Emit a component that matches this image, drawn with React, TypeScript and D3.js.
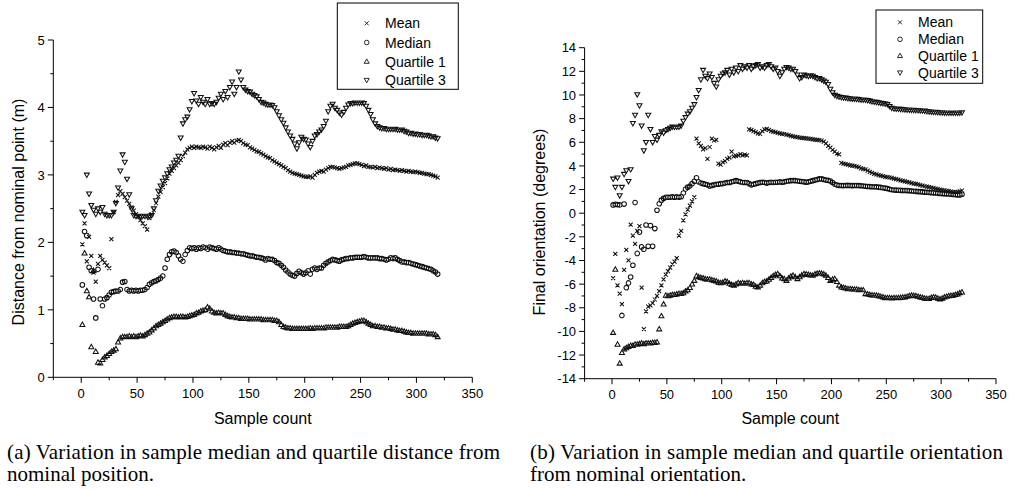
import React from "react";
import * as d3 from "d3";

// sample indices (every second sample, 1..319)
const SAMPLES: number[] = d3.range(1, 320, 2);

const SERIES_NAMES = ["Mean", "Median", "Quartile 1", "Quartile 3"];

// ---------- Panel (a): distance from nominal point (m) ----------
const LEFT_MEAN = [
  1.97, 2.28, 1.72, 2.08, 1.8, 1.55, 1.42, 1.68, 1.8, 1.74,
  1.7, 1.66, 1.62, 2.05, 2.45, 2.6, 2.7, 2.76, 2.72, 2.67,
  2.62, 2.57, 2.52, 2.47, 2.42, 2.38, 2.33, 2.28, 2.24, 2.19,
  2.36, 2.42, 2.48, 2.58, 2.68, 2.75, 2.82, 2.88, 2.95, 3.02,
  3.06, 3.1, 3.14, 3.18, 3.22, 3.28, 3.33, 3.38, 3.4, 3.42,
  3.4, 3.42, 3.41, 3.4, 3.42, 3.41, 3.39, 3.42, 3.4, 3.38,
  3.41, 3.43, 3.4, 3.45, 3.47, 3.44, 3.48, 3.5, 3.48, 3.51,
  3.52, 3.5, 3.47, 3.45, 3.44, 3.41, 3.39, 3.37, 3.35, 3.34,
  3.32, 3.3, 3.28, 3.26, 3.25, 3.22, 3.2, 3.18, 3.16, 3.14,
  3.12, 3.1, 3.07, 3.05, 3.03, 3.02, 3.01, 3.0, 2.99, 2.98,
  2.97, 2.97, 2.98, 2.96, 3.0, 3.03, 3.05, 3.06, 3.05, 3.08,
  3.1, 3.12, 3.12, 3.11, 3.1, 3.09, 3.1, 3.11, 3.12, 3.14,
  3.15, 3.16, 3.17, 3.17, 3.16, 3.15, 3.13, 3.14, 3.12, 3.12,
  3.11, 3.12, 3.1, 3.11, 3.1, 3.09, 3.1, 3.08, 3.09, 3.07,
  3.08, 3.07, 3.06, 3.07, 3.06, 3.05, 3.06, 3.05, 3.04, 3.05,
  3.04, 3.03, 3.03, 3.02, 3.01, 3.01, 3.0, 2.99, 2.98, 2.96,
];

const LEFT_MEDIAN = [
  1.37, 2.16, 2.1, 1.63, 1.58, 1.16, 0.88, 1.6, 1.16, 1.06,
  1.16, 1.18, 1.22, 1.26, 1.27, 1.28, 1.28, 1.3, 1.41, 1.42,
  1.3, 1.28, 1.29, 1.28, 1.29, 1.28, 1.29, 1.29, 1.3, 1.33,
  1.38, 1.4, 1.42, 1.43, 1.45, 1.47, 1.5, 1.62, 1.75, 1.82,
  1.86, 1.87, 1.85, 1.8, 1.75, 1.72, 1.82, 1.88, 1.92, 1.91,
  1.92, 1.9, 1.92, 1.91, 1.93, 1.92, 1.9, 1.93, 1.92, 1.91,
  1.9, 1.92, 1.9, 1.88, 1.87, 1.86, 1.86, 1.85, 1.85, 1.84,
  1.84, 1.83, 1.83, 1.82, 1.81, 1.8, 1.8, 1.79, 1.78, 1.78,
  1.77, 1.76, 1.74, 1.76, 1.75, 1.75, 1.73, 1.7, 1.69, 1.66,
  1.63, 1.59, 1.56, 1.53, 1.51, 1.5, 1.54, 1.57, 1.55, 1.53,
  1.55, 1.58, 1.53, 1.6, 1.62, 1.6, 1.62, 1.62, 1.66, 1.69,
  1.71, 1.73, 1.75, 1.74, 1.73, 1.72, 1.74, 1.75, 1.76, 1.76,
  1.77, 1.77, 1.78, 1.78, 1.78, 1.78, 1.79, 1.78, 1.77, 1.77,
  1.77, 1.77, 1.77, 1.76, 1.76, 1.75, 1.74, 1.75, 1.77, 1.76,
  1.77, 1.75, 1.73, 1.71, 1.71, 1.7, 1.7, 1.69, 1.68, 1.67,
  1.66, 1.65, 1.64, 1.63, 1.62, 1.61, 1.6, 1.58, 1.56, 1.53,
];

const LEFT_Q1 = [
  0.78, 1.84, 1.28, 1.19, 0.45, 1.58, 0.38, 0.22, 0.21, 0.26,
  0.3, 0.32, 0.35, 0.38, 0.4, 0.42, 0.52, 0.58, 0.6, 0.6,
  0.6, 0.61, 0.6, 0.61, 0.6, 0.61, 0.62, 0.61, 0.63, 0.65,
  0.67, 0.7, 0.73, 0.76, 0.78, 0.8, 0.82, 0.84, 0.86, 0.88,
  0.89, 0.9, 0.9, 0.89, 0.9, 0.9, 0.89, 0.9, 0.91, 0.92,
  0.93, 0.95, 0.96, 0.98, 0.99, 1.0, 1.04, 1.02, 0.98, 0.96,
  0.95, 0.96, 0.95, 0.95, 0.93, 0.91, 0.9, 0.89, 0.89, 0.88,
  0.88, 0.87, 0.87, 0.87, 0.87, 0.86, 0.86, 0.86, 0.86, 0.86,
  0.86, 0.85, 0.85, 0.85, 0.85, 0.85, 0.84, 0.84, 0.82, 0.78,
  0.75, 0.74, 0.73, 0.73, 0.72, 0.72, 0.72, 0.72, 0.72, 0.72,
  0.72, 0.72, 0.73, 0.72, 0.73, 0.73, 0.73, 0.73, 0.73, 0.74,
  0.74, 0.74, 0.74, 0.74, 0.74, 0.75, 0.75, 0.75, 0.75, 0.76,
  0.78, 0.8, 0.81, 0.82, 0.83, 0.84, 0.84, 0.82, 0.8, 0.78,
  0.76, 0.76, 0.75, 0.75, 0.74, 0.74, 0.73, 0.73, 0.72, 0.71,
  0.71, 0.7, 0.69, 0.69, 0.68, 0.67, 0.66, 0.66, 0.65, 0.65,
  0.65, 0.65, 0.65, 0.65, 0.65, 0.64, 0.64, 0.64, 0.63, 0.6,
];

const LEFT_Q3 = [
  2.45, 2.4, 3.0, 2.72, 2.55, 2.48, 2.42, 2.5, 2.45, 2.52,
  2.42, 2.4, 2.4, 2.4, 2.45, 2.58, 2.81, 3.06, 3.3, 3.19,
  2.94, 2.71, 2.5, 2.4, 2.39, 2.39, 2.39, 2.39, 2.39, 2.39,
  2.39, 2.4, 2.5, 2.62, 2.76, 2.84, 2.91, 2.96, 3.02, 3.08,
  3.12, 3.18, 3.22, 3.28, 3.55, 3.76, 3.82, 3.86, 3.97, 4.09,
  4.21, 4.1, 4.05, 4.15, 4.08, 4.05, 4.12, 4.05, 4.06, 4.05,
  4.08, 4.14, 4.2, 4.12, 4.24, 4.15, 4.3, 4.38, 4.2, 4.3,
  4.53, 4.41, 4.3, 4.26, 4.24, 4.23, 4.2, 4.18, 4.16, 4.12,
  4.08, 4.07, 4.05, 4.04, 4.04, 4.03, 4.0, 3.94, 3.88, 3.82,
  3.77, 3.7, 3.64, 3.58, 3.53, 3.46, 3.39, 3.48, 3.56, 3.53,
  3.52, 3.46, 3.41, 3.5, 3.58, 3.6, 3.64, 3.67, 3.72, 3.8,
  3.94, 4.02, 4.05, 3.99, 3.96, 3.92, 3.89, 3.93, 3.99, 4.04,
  4.06, 4.06, 4.07, 4.07, 4.07, 4.07, 4.06, 4.02, 3.96, 3.9,
  3.82, 3.76, 3.72, 3.7, 3.69, 3.69, 3.68, 3.68, 3.68, 3.68,
  3.68, 3.67, 3.67, 3.67, 3.65, 3.64, 3.62, 3.62, 3.61, 3.61,
  3.6, 3.6, 3.59, 3.59, 3.59, 3.58, 3.57, 3.57, 3.55, 3.54,
];

// ---------- Panel (b): final orientation (degrees) ----------
const RIGHT_MEAN = [
  -5.5, -3.44, -6.1, -6.8, -7.7, -4.8, -3.1, -4.0, -0.96, -1.9,
  -2.6, -1.5, -1.1, -6.3, -9.8, -8.3, -7.9, -7.8, -7.6, -7.3,
  -7.0, -6.6, -6.1, -5.6, -5.2, -4.9, -4.6, -4.3, -4.1, -3.8,
  -1.9, -1.5, -0.6, -0.1, 0.3, 0.65, 1.0, 1.35, 6.3, 5.9,
  5.7, 5.4, 5.5, 4.6, 5.6, 6.3, 6.15, 6.2, 4.2, 4.1,
  4.3, 4.4, 4.6, 4.7, 5.2, 4.8, 4.85, 4.9, 5.0, 4.9,
  4.95, 4.9, 7.1, 7.05, 6.95, 6.85, 6.75, 6.7, 6.95, 7.1,
  7.14, 7.05, 6.95, 6.9, 6.85, 6.8, 6.75, 6.72, 6.7, 6.65,
  6.6, 6.55, 6.5, 6.45, 6.43, 6.4, 6.38, 6.35, 6.32, 6.3,
  6.28, 6.25, 6.22, 6.2, 6.18, 6.15, 6.05, 5.9, 5.7, 5.55,
  5.35, 5.2, 5.05, 4.97, 4.25, 4.2, 4.15, 4.1, 4.05, 4.03,
  4.0, 3.95, 3.9, 3.8, 3.75, 3.7, 3.6, 3.5, 3.42, 3.33,
  3.28, 3.23, 3.18, 3.13, 3.08, 3.05, 3.02, 2.98, 2.93, 2.88,
  2.83, 2.78, 2.74, 2.7, 2.65, 2.6, 2.55, 2.5, 2.48, 2.44,
  2.38, 2.33, 2.28, 2.24, 2.2, 2.16, 2.12, 2.08, 2.04, 2.0,
  1.96, 1.93, 1.89, 1.86, 1.82, 1.79, 1.78, 1.8, 1.85, 1.92,
];

const RIGHT_MEDIAN = [
  0.7, 0.75, 0.72, 0.7, -8.65, 0.77, -6.3, -5.9, -5.4, -4.4,
  0.9, -3.4, -1.6, -2.85, -3.05, -1.0, -2.8, -1.05, -2.8, -1.3,
  0.25, 0.8, 1.1, 1.25, 1.35, 1.35, 1.35, 1.38, 1.35, 1.38,
  1.35, 1.4, 1.7, 2.05, 2.2, 2.3, 2.5, 2.7, 3.0, 2.65,
  2.55, 2.5, 2.45, 2.4, 2.3, 2.35, 2.4, 2.45, 2.45, 2.5,
  2.5, 2.55, 2.6, 2.6, 2.65, 2.7, 2.75, 2.7, 2.65, 2.6,
  2.6, 2.6, 2.5, 2.4, 2.45, 2.5, 2.55, 2.6, 2.62, 2.6,
  2.55, 2.6, 2.62, 2.6, 2.62, 2.62, 2.65, 2.62, 2.65, 2.7,
  2.72, 2.75, 2.77, 2.75, 2.72, 2.7, 2.68, 2.65, 2.62, 2.65,
  2.7, 2.75, 2.8, 2.85, 2.9, 2.9, 2.85, 2.8, 2.77, 2.72,
  2.6, 2.45, 2.38, 2.34, 2.34, 2.33, 2.34, 2.35, 2.34, 2.33,
  2.34, 2.34, 2.33, 2.32, 2.3, 2.28, 2.26, 2.25, 2.24, 2.22,
  2.22, 2.2, 2.18, 2.15, 2.12, 2.08, 2.02, 1.98, 1.96, 1.95,
  1.94, 1.93, 1.92, 1.92, 1.91, 1.9, 1.88, 1.86, 1.85, 1.83,
  1.82, 1.8, 1.78, 1.77, 1.75, 1.73, 1.72, 1.7, 1.68, 1.67,
  1.65, 1.64, 1.63, 1.62, 1.6, 1.58, 1.56, 1.55, 1.55, 1.6,
];

const RIGHT_Q1 = [
  -10.1, -4.75, -11.1, -12.7, -11.8, -11.5, -11.4, -11.3, -11.2, -11.2,
  -11.1, -11.1, -11.05, -11.0, -11.05, -11.0, -11.0, -11.0, -10.95, -10.95,
  -10.9, -9.8, -8.7, -7.7, -6.95, -7.0, -6.95, -6.9, -6.9, -6.85,
  -6.8, -6.8, -6.75, -6.6, -6.5, -6.3, -6.0, -5.7, -5.3, -5.4,
  -5.45, -5.5, -5.55, -5.6, -5.6, -5.65, -5.7, -5.75, -5.85, -5.9,
  -5.85, -5.75, -5.8, -5.95, -6.05, -6.1, -6.0, -5.9, -5.95, -5.9,
  -5.95, -5.9, -5.9, -6.0, -6.05, -6.2, -6.25, -6.1, -5.9, -5.8,
  -5.75, -5.6, -5.45, -5.3, -5.2, -5.13, -5.3, -5.5, -5.55, -5.7,
  -5.5, -5.35, -5.27, -5.4, -5.55, -5.4, -5.25, -5.13, -5.15, -5.2,
  -5.25, -5.27, -5.15, -5.1, -5.08, -5.1, -5.15, -5.27, -5.45, -5.7,
  -5.6, -5.55, -5.8, -6.1, -6.26, -6.3, -6.35, -6.4, -6.4, -6.42,
  -6.45, -6.45, -6.48, -6.5, -6.5, -6.82, -6.85, -6.9, -6.93, -6.95,
  -6.96, -7.0, -7.05, -7.1, -7.16, -7.16, -7.17, -7.18, -7.16, -7.16,
  -7.16, -7.15, -7.12, -7.1, -7.05, -7.0, -6.96, -6.97, -7.0, -7.05,
  -7.1, -7.15, -7.2, -7.24, -7.22, -7.15, -7.1, -7.12, -7.2, -7.27,
  -7.2, -7.1, -7.05, -7.0, -6.98, -6.96, -6.9, -6.85, -6.75, -6.68,
];

const RIGHT_Q3 = [
  2.9, 2.2, 3.0, 1.5, 2.2, 3.3, 3.6, 2.7, 3.7, 7.6,
  8.3, 10.04, 9.1, 7.4, 5.3, 6.0, 8.3, 7.1, 6.0, 6.5,
  6.2, 6.6, 6.9, 6.8, 7.0, 7.1, 7.2, 7.3, 7.3, 7.3,
  7.3, 7.4, 7.8, 8.1, 8.4, 8.6, 8.9, 9.2, 9.8, 10.4,
  11.3, 12.1, 11.6, 11.4, 11.8, 11.5, 11.0, 10.7, 11.3, 11.6,
  11.8, 11.9, 12.1, 11.7, 12.2, 11.9, 12.3, 12.0, 12.5, 12.2,
  12.4, 12.3, 12.5, 12.2, 12.4, 12.5, 12.6, 12.3, 12.4, 12.3,
  12.5, 12.6, 12.4, 12.2, 12.3, 12.0, 11.6, 11.9, 12.2, 12.35,
  12.3, 12.2, 12.2, 12.0, 11.7, 11.4, 11.5, 11.7, 11.65, 11.6,
  11.65, 11.6, 11.5, 11.4, 11.4, 11.3, 11.2, 11.1, 10.9, 10.5,
  10.2, 10.0, 9.9, 9.85, 9.8, 9.78, 9.75, 9.72, 9.7, 9.68,
  9.68, 9.65, 9.63, 9.6, 9.6, 9.58, 9.55, 9.5, 9.45, 9.42,
  9.39, 9.35, 9.32, 9.3, 9.26, 9.2, 9.05, 8.9, 8.85, 8.83,
  8.82, 8.8, 8.78, 8.77, 8.75, 8.74, 8.73, 8.72, 8.71, 8.7,
  8.69, 8.67, 8.65, 8.62, 8.6, 8.58, 8.56, 8.55, 8.54, 8.52,
  8.51, 8.5, 8.49, 8.49, 8.48, 8.48, 8.49, 8.49, 8.5, 8.52,
];

// ---------- ticks ----------
const X_DOMAIN = [-25, 350];
const X_MAJOR = [0, 50, 100, 150, 200, 250, 300, 350];
const X_MINOR = [-25, 25, 75, 125, 175, 225, 275, 325];
const LEFT_Y_DOMAIN = [0, 5];
const LEFT_Y_MAJOR = [0, 1, 2, 3, 4, 5];
const LEFT_Y_MINOR = [0.5, 1.5, 2.5, 3.5, 4.5];
const RIGHT_Y_DOMAIN = [-14, 14];
const RIGHT_Y_MAJOR = [-14, -12, -10, -8, -6, -4, -2, 0, 2, 4, 6, 8, 10, 12, 14];
const RIGHT_Y_MINOR = [-13, -11, -9, -7, -5, -3, -1, 1, 3, 5, 7, 9, 11, 13];

const CAPTION_A = ["(a) Variation in sample median and quartile distance from", "nominal position."];
const CAPTION_B = ["(b) Variation in sample median and quartile orientation", "from nominal orientation."];

type Kind = "cross" | "circle" | "up" | "down";
const KINDS: Kind[] = ["cross", "circle", "up", "down"];

const SANS = "'Liberation Sans', Arial, Helvetica, sans-serif";
const SERIF = "'Liberation Serif', 'Times New Roman', serif";

function addMarker(p: d3.Path, kind: Kind, x: number, y: number) {
  if (kind === "cross") {
    const s = 2.0;
    p.moveTo(x - s, y - s); p.lineTo(x + s, y + s);
    p.moveTo(x - s, y + s); p.lineTo(x + s, y - s);
  } else if (kind === "circle") {
    const r = 2.3;
    p.moveTo(x + r, y); p.arc(x, y, r, 0, Math.PI * 2);
  } else if (kind === "up") {
    p.moveTo(x, y - 2.6); p.lineTo(x + 2.5, y + 1.8); p.lineTo(x - 2.5, y + 1.8); p.closePath();
  } else {
    p.moveTo(x, y + 2.6); p.lineTo(x + 2.5, y - 1.8); p.lineTo(x - 2.5, y - 1.8); p.closePath();
  }
}

function seriesPath(kind: Kind, xs: number[], ys: number[], sx: d3.ScaleLinear<number, number>, sy: d3.ScaleLinear<number, number>) {
  const p = d3.path();
  xs.forEach((s, i) => addMarker(p, kind, sx(s), sy(ys[i])));
  return p.toString();
}

function markerOnly(kind: Kind, x: number, y: number) {
  const p = d3.path();
  addMarker(p, kind, x, y);
  return p.toString();
}

interface PanelProps {
  x0: number; x1: number; yTop: number; yBottom: number;
  yDomain: number[]; yMajor: number[]; yMinor: number[];
  data: number[][];
  yTitle: string; yTitleX: number; yTitleY: number;
  legend: { x: number; y: number; w: number; h: number; rows: number[]; symX: number; textX: number };
  caption: string[]; captionX: number; captionW: number;
}

function Panel(props: PanelProps) {
  const { x0, x1, yTop, yBottom, yDomain, yMajor, yMinor, data, legend, caption } = props;
  const sx = d3.scaleLinear().domain(X_DOMAIN).range([x0, x1]);
  const sy = d3.scaleLinear().domain(yDomain).range([yBottom, yTop]);
  const stroke = "#111";
  return (
    <g>
      {/* data */}
      {KINDS.map((k, i) => (
        <path key={k} d={seriesPath(k, SAMPLES, data[i], sx, sy)} fill="none" stroke={stroke} strokeWidth={1.05} />
      ))}
      {/* x axis */}
      <line x1={x0} x2={x1} y1={yBottom} y2={yBottom} stroke="#000" strokeWidth={1} />
      {X_MAJOR.map((t) => (
        <g key={"xm" + t}>
          <line x1={sx(t)} x2={sx(t)} y1={yBottom} y2={yBottom + 5.5} stroke="#000" strokeWidth={1} />
          <text x={sx(t)} y={yBottom + 20.5} textAnchor="middle" fontFamily={SANS} fontSize={13} fill="#000">{t}</text>
        </g>
      ))}
      {X_MINOR.map((t) => (
        <line key={"xn" + t} x1={sx(t)} x2={sx(t)} y1={yBottom} y2={yBottom + 3} stroke="#000" strokeWidth={1} />
      ))}
      <text x={(x0 + x1) / 2} y={423.5} textAnchor="middle" fontFamily={SANS} fontSize={16} fill="#000">Sample count</text>
      {/* y axis */}
      <line x1={x0} x2={x0} y1={yBottom} y2={yTop} stroke="#000" strokeWidth={1} />
      {yMajor.map((t) => (
        <g key={"ym" + t}>
          <line x1={x0 - 5.5} x2={x0} y1={sy(t)} y2={sy(t)} stroke="#000" strokeWidth={1} />
          <text x={x0 - 8.5} y={sy(t)} dy="0.36em" textAnchor="end" fontFamily={SANS} fontSize={13} fill="#000">{t}</text>
        </g>
      ))}
      {yMinor.map((t) => (
        <line key={"yn" + t} x1={x0 - 3} x2={x0} y1={sy(t)} y2={sy(t)} stroke="#000" strokeWidth={1} />
      ))}
      <text transform={`translate(${props.yTitleX},${props.yTitleY}) rotate(-90)`} dy="0.36em" textAnchor="middle" fontFamily={SANS} fontSize={16} fill="#000">{props.yTitle}</text>
      {/* legend */}
      <rect x={legend.x} y={legend.y} width={legend.w} height={legend.h} fill="#fff" stroke="#000" strokeWidth={1} />
      {SERIES_NAMES.map((name, i) => (
        <g key={name}>
          <path d={markerOnly(KINDS[i], legend.symX, legend.rows[i])} fill="none" stroke={stroke} strokeWidth={0.9} />
          <text x={legend.textX} y={legend.rows[i]} dy="0.36em" fontFamily={SANS} fontSize={14} fill="#000">{name}</text>
        </g>
      ))}
      {/* caption */}
      <text x={props.captionX} y={459} fontFamily={SERIF} fontSize={21} fill="#000" textLength={props.captionW} lengthAdjust="spacing">{caption[0]}</text>
      <text x={props.captionX} y={481} fontFamily={SERIF} fontSize={21} fill="#000">{caption[1]}</text>
    </g>
  );
}

export default function App() {
  return (
    <svg width={1010} height={489} viewBox="0 0 1010 489" style={{ position: "absolute", left: 0, top: 0, background: "#fff" }}>
      <rect x={0} y={0} width={1010} height={489} fill="#fff" />
      <Panel
        x0={53.3} x1={472.3} yTop={40} yBottom={377.3}
        yDomain={LEFT_Y_DOMAIN} yMajor={LEFT_Y_MAJOR} yMinor={LEFT_Y_MINOR}
        data={[LEFT_MEAN, LEFT_MEDIAN, LEFT_Q1, LEFT_Q3]}
        yTitle="Distance from nominal point (m)" yTitleX={18.5} yTitleY={212}
        legend={{ x: 337.3, y: 3, w: 121, h: 86.3, rows: [23.3, 42.5, 61.5, 80.2], symX: 366.7, textX: 385 }}
        caption={CAPTION_A} captionX={7} captionW={493}
      />
      <Panel
        x0={584.6} x1={996} yTop={47.7} yBottom={378.7}
        yDomain={RIGHT_Y_DOMAIN} yMajor={RIGHT_Y_MAJOR} yMinor={RIGHT_Y_MINOR}
        data={[RIGHT_MEAN, RIGHT_MEDIAN, RIGHT_Q1, RIGHT_Q3]}
        yTitle="Final orientation (degrees)" yTitleX={539} yTitleY={222}
        legend={{ x: 876, y: 10, w: 106.7, h: 73.3, rows: [22.3, 39.3, 55.8, 72.7], symX: 900, textX: 918 }}
        caption={CAPTION_B} captionX={530} captionW={473}
      />
    </svg>
  );
}
